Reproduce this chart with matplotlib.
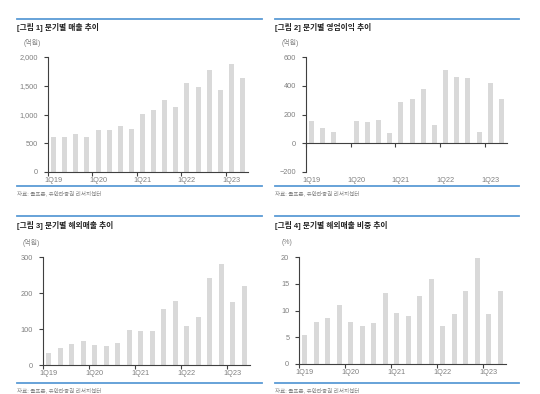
import numpy as np
import matplotlib
matplotlib.use("Agg")
import matplotlib.pyplot as plt
from matplotlib.transforms import blended_transform_factory, offset_copy

plt.rcParams['font.family'] = ['Liberation Sans', 'Noto Sans CJK KR']
plt.rcParams['axes.unicode_minus'] = True

# quarters 1Q19 .. 2Q23
quarters = ['1Q19', '2Q19', '3Q19', '4Q19', '1Q20', '2Q20', '3Q20', '4Q20',
            '1Q21', '2Q21', '3Q21', '4Q21', '1Q22', '2Q22', '3Q22', '4Q22',
            '1Q23', '2Q23']

# [그림 1] revenue (억원)
sales = [616, 616, 663, 610, 738, 733, 808, 750, 1006, 1070, 1244, 1134,
         1552, 1471, 1767, 1424, 1884, 1628]
# [그림 2] operating profit (억원)
op_profit = [153, 105, 81, 2, 158, 147, 160, 70, 288, 305, 377, 126,
             512, 460, 453, 79, 419, 309]
# [그림 3] overseas revenue (억원)
overseas = [33, 48, 57, 68, 56, 52, 62, 98, 95, 95, 156, 178,
            109, 134, 241, 280, 174, 219]
# [그림 4] overseas share (%)
overseas_pct = [5.4, 7.8, 8.6, 11.1, 7.8, 7.1, 7.6, 13.2, 9.5, 8.9, 12.7, 15.8,
                7.1, 9.3, 13.7, 19.8, 9.3, 13.6]

titles = ['[그림 1] 분기별 매출 추이', '[그림 2] 분기별 영업이익 추이',
          '[그림 3] 분기별 해외매출 추이', '[그림 4] 분기별 해외매출 비중 추이']
units = ['(억원)', '(억원)', '(억원)', '(%)']
source = '자료: 골프존, 유안타증권 리서치센터'

W, H = 540, 394
BLUE = '#5b9bd5'
BAR = '#d9d9d9'
GRAY = '#808080'
DARK = '#404040'

fig = plt.figure(figsize=(W / 100, H / 100), dpi=100)
fig.patch.set_facecolor('white')


def rect(l, t, r, b):
    return [l / W, 1 - b / H, (r - l) / W, (b - t) / H]


def hline(x0, x1, y):
    fig.add_artist(plt.Line2D([x0 / W, x1 / W], [1 - y / H, 1 - y / H],
                              color=BLUE, lw=1.3))


def panel(axpos, frame, values, yticks, fmt, unit_pos, title, unit):
    fx0, fx1, ftop, fbot = frame
    hline(fx0, fx1, ftop)
    hline(fx0, fx1, fbot)
    fig.text(fx0 / W, 1 - (ftop + 9) / H, title, fontsize=5.6, fontweight='bold',
             color='#222222', va='center', ha='left')
    fig.text(unit_pos[0] / W, 1 - unit_pos[1] / H, unit, fontsize=5,
             color=GRAY, va='center', ha='left')
    fig.text(fx0 / W, 1 - (fbot + 7) / H, source, fontsize=4.0,
             color=GRAY, va='center', ha='left')

    ax = fig.add_axes(rect(*axpos))
    x = np.arange(len(quarters))
    ax.bar(x, values, width=0.45, color=BAR)
    ax.set_xlim(-0.5, len(quarters) - 0.5)
    ax.set_ylim(yticks[0], yticks[-1])
    ax.set_yticks(yticks)
    ax.set_yticklabels([fmt(v) for v in yticks])
    for s in ['top', 'right']:
        ax.spines[s].set_visible(False)
    ax.spines['left'].set_color(DARK)
    ax.spines['bottom'].set_color(DARK)
    ax.spines['left'].set_linewidth(0.8)
    ax.spines['bottom'].set_linewidth(0.8)
    ax.spines['bottom'].set_position(('data', 0))
    ax.tick_params(axis='y', length=3, width=0.8, color=DARK, labelsize=5.3,
                   labelcolor=GRAY, pad=4)
    # ticks at year boundaries, labels under the 1Q bars
    ax.set_xticks(np.arange(-0.5, len(quarters), 4))
    ax.set_xticklabels([])
    ax.tick_params(axis='x', length=3, width=0.8, color=DARK)
    tr = blended_transform_factory(ax.transData, ax.transAxes)
    tr = offset_copy(tr, fig=fig, y=-8.5, units='dots')
    for i in range(0, len(quarters), 4):
        ax.text(x[i], 0, quarters[i], transform=tr, ha='center', va='center',
                fontsize=5.3, color=GRAY)
    return ax


def comma(v):
    return f'{v:,.0f}'


def signed(v):
    return f'{v:.0f}'.replace('-', '\u2212')


panel((48, 57, 248, 172), (17, 262, 19, 186), sales,
      [0, 500, 1000, 1500, 2000], comma, (24, 43), titles[0], units[0])
panel((306, 57, 507, 172), (275, 519, 19, 186), op_profit,
      [-200, 0, 200, 400, 600], signed, (282, 43), titles[1], units[1])
panel((43, 257, 250, 365), (17, 262, 216, 383), overseas,
      [0, 100, 200, 300], comma, (23, 243), titles[2], units[2])
panel((299, 257, 506, 364), (275, 519, 216, 383), overseas_pct,
      [0, 5, 10, 15, 20], comma, (282, 243), titles[3], units[3])

fig.savefig('out.png', dpi=100, facecolor='white')
